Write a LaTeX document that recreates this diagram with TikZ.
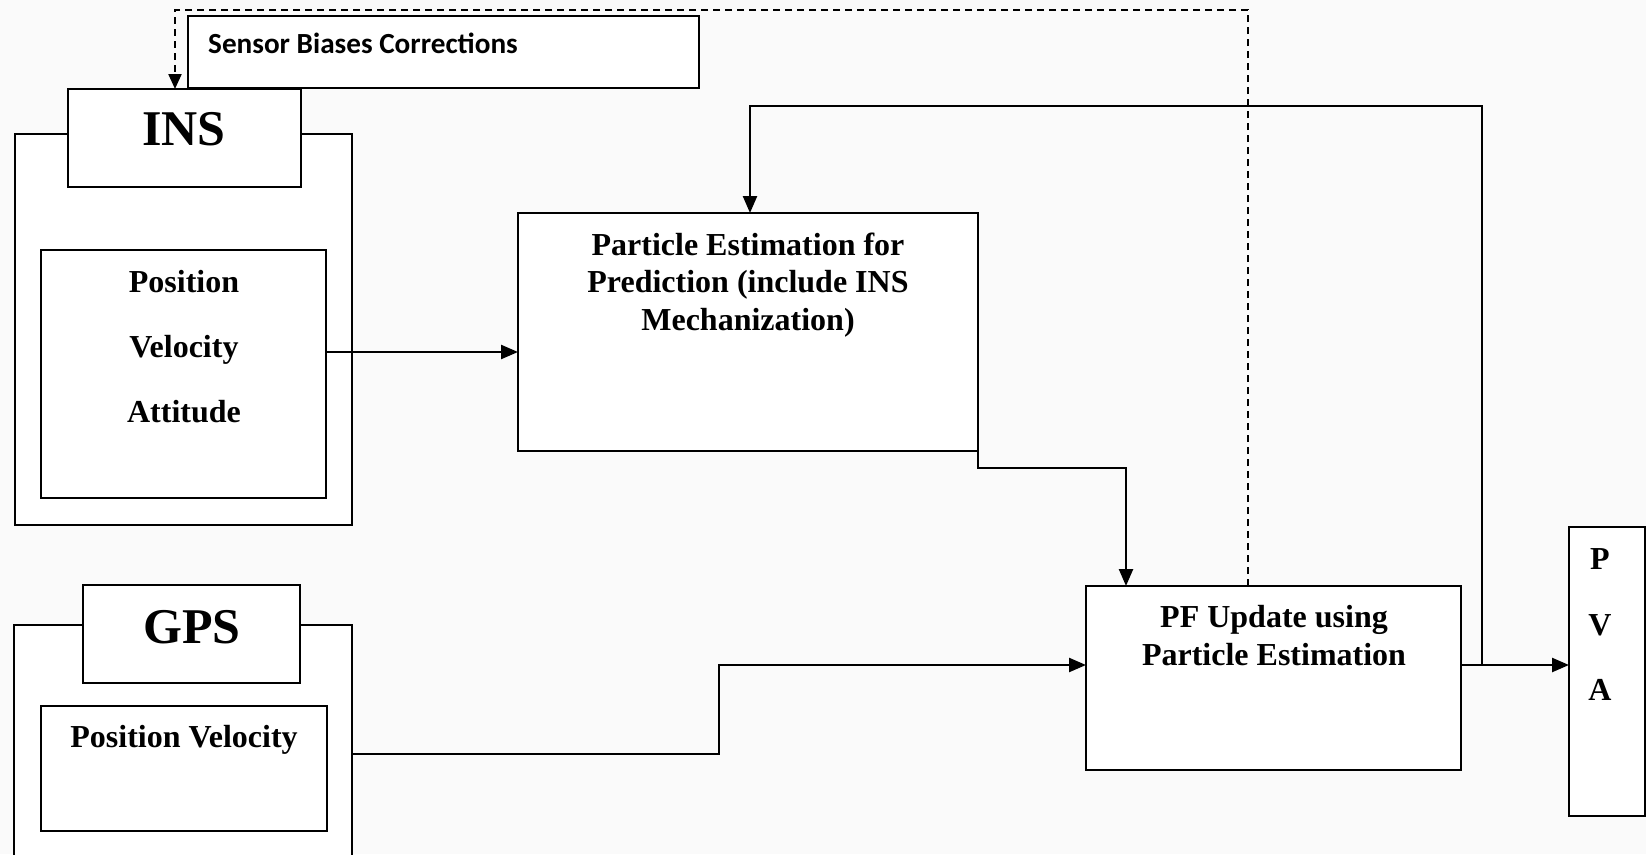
\documentclass[tikz,border=0pt]{standalone}
\usepackage{fontspec}
\setmainfont{Liberation Serif}
\newfontfamily\calibfont{Carlito}
\usetikzlibrary{arrows.meta}
\begin{document}
\begin{tikzpicture}[x=1pt,y=-1pt,
  box/.style={draw=black, line width=2.4pt, fill=white, inner sep=0pt, outer sep=0pt, anchor=north west},
  txt/.style={anchor=base, inner sep=0pt, font=\bfseries\fontsize{32}{38}\selectfont},
  bigtxt/.style={anchor=base, inner sep=0pt, font=\bfseries\fontsize{50}{60}\selectfont},
  arr/.style={line width=2.4pt, -{Triangle[length=17pt,width=14pt]}},
  dasharr/.style={line width=2.2pt, dash pattern=on 7pt off 5pt, -{Triangle[length=15pt,width=13pt]}}]
\fill[white!98!black] (0,0) rectangle (1646,854);
\useasboundingbox (0,0) rectangle (1646,854);
\clip (0,0) rectangle (1646,854);

% boxes
\node[box, minimum width=511pt, minimum height=72pt] (sens) at (188,16) {};
\node[box, minimum width=337pt, minimum height=391pt] (insout) at (15,134) {};
\node[box, minimum width=233pt, minimum height=98pt] (inslab) at (68,89) {};
\node[box, minimum width=285pt, minimum height=248pt] (insin) at (41,250) {};
\node[box, minimum width=460pt, minimum height=238pt] (pe) at (518,213) {};
\node[box, minimum width=375pt, minimum height=184pt] (pf) at (1086,586) {};
\node[box, minimum width=76pt, minimum height=289pt] (pva) at (1569,527) {};
\node[box, minimum width=338pt, minimum height=260pt] (gpsout) at (14,625) {};
\node[box, minimum width=217pt, minimum height=98pt] (gpslab) at (83,585) {};
\node[box, minimum width=286pt, minimum height=125pt] (gpsin) at (41,706) {};

% texts
\node[anchor=base west, inner sep=0pt, font=\calibfont\bfseries\fontsize{29.2}{35}\selectfont] (tsens) at (208,53) {Sensor Biases Corrections};
\node[bigtxt] (tins) at (184,145) {INS};
\node[txt] (tpos) at (184,292) {Position};
\node[txt] (tvel) at (184,357) {Velocity};
\node[txt] (tatt) at (184,422) {Attitude};
\node[txt] (tpe1) at (748,255) {Particle Estimation for};
\node[txt] (tpe2) at (748,292) {Prediction (include INS};
\node[txt] (tpe3) at (748,330) {Mechanization)};
\node[txt] (tpf1) at (1274,627) {PF Update using};
\node[txt] (tpf2) at (1274,665) {Particle Estimation};
\node[txt] (tp) at (1600,569) {P};
\node[txt] (tv) at (1600,635) {V};
\node[txt] (ta) at (1600,700) {A};
\node[bigtxt] (tgps) at (192,643) {GPS};
\node[txt] (tgpv) at (184,747) {Position Velocity};

% helper coordinates
\coordinate (r1) at (0,352);
\coordinate (c1) at (1126,468);
\coordinate (r2) at (0,754);
\coordinate (c2) at (719,665);
\coordinate (yo) at (0,665);
\coordinate (j) at (1482,665);
\coordinate (ftop) at (750,106);
\coordinate (dtop) at (175,10);

% connectors
\draw[arr] (insin.east |- r1) -- (pe.west |- r1);
\draw[arr] (pe.east |- r1) |- (c1) -- (c1 |- pf.north);
\draw[arr] (gpsout.east |- r2) -| (c2) -- (c2 -| pf.west);
\draw[arr] (pf.east |- yo) -- (pva.west |- yo);
\draw[arr] (j) |- (ftop) -- (ftop |- pe.north);
\draw[dasharr] ([xshift=162pt]pf.north west) |- (dtop) -- (dtop |- inslab.north);
\end{tikzpicture}
\end{document}
